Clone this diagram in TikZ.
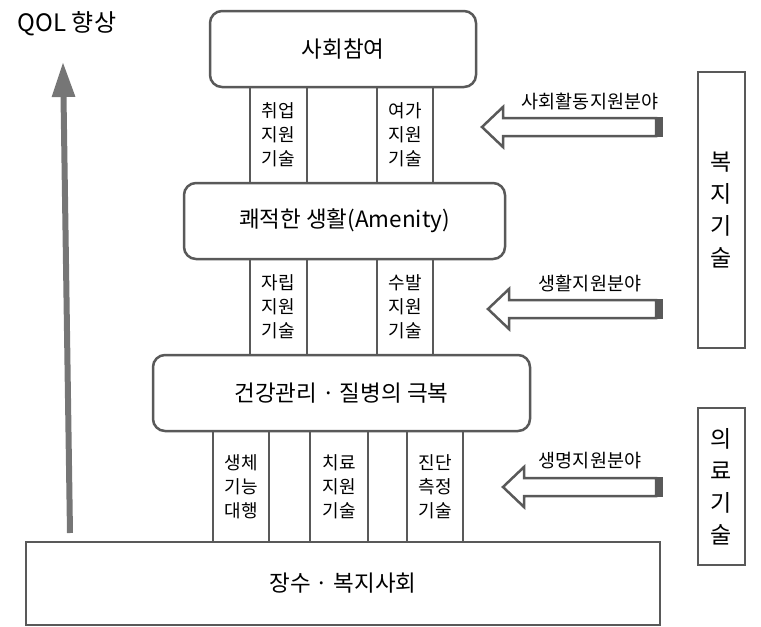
\documentclass[tikz,border=0pt]{standalone}
\usepackage{fontspec}
\setmainfont{Noto Sans CJK KR}
\usepackage{xcolor}
\usepackage{tikz}
\usetikzlibrary{arrows.meta}
\definecolor{edgegray}{RGB}{89,89,89}
\definecolor{qolgray}{RGB}{118,118,118}

\begin{document}
\begin{tikzpicture}[x=1pt,y=-1pt,
	goal/.style={draw=edgegray,line width=2.5pt,fill=white,rounded corners=12pt,minimum height=76pt,inner sep=0pt,font=\fontsize{22.5}{26}\selectfont},
	pillar/.style={draw=edgegray,line width=2.5pt,fill=white,align=center,inner sep=0pt,font=\fontsize{18}{24}\selectfont},
	field/.style={font=\fontsize{18.5}{22}\selectfont},
	techbox/.style={draw=edgegray,line width=2.5pt,minimum width=47pt,align=center,inner sep=0pt,font=\fontsize{23}{32}\selectfont}]
	\useasboundingbox (0,0) rectangle (761,627);
	% pillars first, the goal boxes lie over their ends
	\foreach \px/\pw/\nm/\txt in {278.5/57/job/취업\\지원\\기술, 405/56/leisure/여가\\지원\\기술} {
		\node[pillar,minimum width=\pw pt,minimum height=96pt] (p-\nm) at (\px,135) {\txt};
	}
	\foreach \px/\pw/\nm/\txt in {278.5/57/indep/자립\\지원\\기술, 405/56/care/수발\\지원\\기술} {
		\node[pillar,minimum width=\pw pt,minimum height=96pt] (p-\nm) at (\px,307) {\txt};
	}
	\foreach \px/\pw/\nm/\txt in {241/56/bio/생체\\기능\\대행, 339/58/cure/치료\\지원\\기술, 435/56/diag/진단\\측정\\기술} {
		\node[pillar,minimum width=\pw pt,minimum height=111pt] (p-\nm) at (\px,486.5) {\txt};
	}
	\node[goal,minimum width=266pt] (social) at (343,49) {사회참여};
	\node[goal,minimum width=321pt] (amenity) at (344.5,221) {쾌적한 생활(Amenity)};
	\node[goal,minimum width=377pt] (health) at (341.5,393) {건강관리 · 질병의 극복};
	\node[goal,rounded corners=0pt,minimum width=634pt,minimum height=83pt] (base) at (343,583.5) {장수 · 복지사회};
	% right side
	\node[techbox,minimum height=276pt] (welfare) at (721.5,210) {복\\지\\기\\술};
	\node[techbox,minimum height=157pt] (medical) at (721.5,486.5) {의\\료\\기\\술};
	\foreach \tx/\ay/\nm/\lab in {482/127/social/사회활동지원분야, 488/309/life/생활지원분야, 503/487/vital/생명지원분야} {
		\draw [edgegray,line width=2.5pt,fill=white,line join=miter]
			(\tx,\ay) -- ++(21,-20) -- ++(0,11) -- (656,\ay-9) -- (656,\ay+9) -- (\tx+21,\ay+9) -- ++(0,11) -- cycle;
		\fill [edgegray] (655,\ay-10) rectangle (663,\ay+10);
		\node[field] (f-\nm) at (590,\ay-26) {\lab};
	}
	% QOL arrow
	\node[font=\fontsize{24}{26}\selectfont] (qol) at (67,24) {QOL 향상};
	\coordinate (qolfoot) at (70,533);
	\coordinate (qoltip) at (63,62);
	\draw [qolgray,line width=6pt,-{Triangle[length=35pt,width=22pt]}] (qolfoot) -- (qoltip);
\end{tikzpicture}
\end{document}
